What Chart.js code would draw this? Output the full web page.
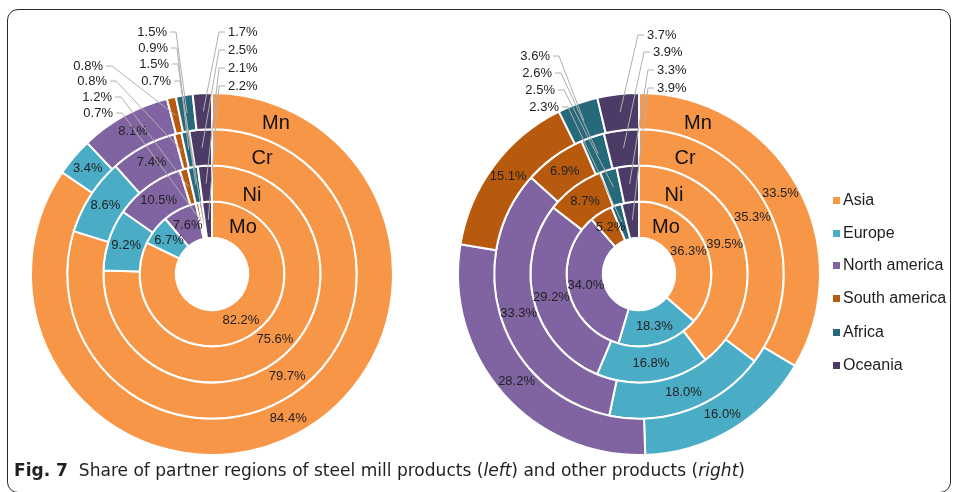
<!DOCTYPE html>
<html>
<head>
<meta charset="utf-8">
<script src="https://cdn.jsdelivr.net/npm/chart.js@4/dist/chart.umd.min.js"></script>
<style>
  html,body{margin:0;padding:0;background:#fff;}
  body{width:956px;height:492px;overflow:hidden;position:relative;font-family:"Liberation Sans",Arial,sans-serif;}
  #frame{position:absolute;left:7px;top:9px;width:944px;height:484px;border:1.5px solid #2a2a2a;border-radius:11px;box-sizing:border-box;}
  canvas{position:absolute;top:0;}
  #c1{left:0;}
  #c2{left:425px;}
  #legend{position:absolute;left:833px;top:0;}
  .li{position:absolute;left:0;white-space:nowrap;font-size:16px;line-height:16px;color:#1e1e1e;}
  .sw{position:absolute;left:0;top:5px;width:7px;height:7px;}
  .lt{position:absolute;left:10px;top:0;}
  #caption{position:absolute;left:14px;top:460px;white-space:nowrap;font-family:"Liberation Sans Narrow","DejaVu Sans Condensed","Liberation Sans",sans-serif;font-size:18px;line-height:20px;color:#231f20;transform-origin:0 0;}
  #caption b{font-weight:bold;}
</style>
</head>
<body>
<div id="frame"></div>
<canvas id="c1" width="425" height="492"></canvas>
<canvas id="c2" width="531" height="492"></canvas>
<div id="legend"></div>
<div id="caption"><b>Fig. 7</b>&nbsp; Share of partner regions of steel mill products (<i>left</i>) and other products (<i>right</i>)</div>
<script>
// ---------- data ----------
const regions = ['Asia', 'Europe', 'North america', 'South america', 'Africa', 'Oceania'];
const rings = ['Mn', 'Cr', 'Ni', 'Mo'];            // outer -> inner
const steelMn = [84.4, 3.4, 8.1, 0.8, 1.5, 1.7];
const steelCr = [79.7, 8.6, 7.4, 0.8, 0.9, 2.5];
const steelNi = [75.6, 9.2, 10.5, 1.2, 1.5, 2.1];
const steelMo = [82.2, 6.7, 7.6, 0.7, 0.7, 2.2];
const otherMn = [33.5, 16.0, 28.2, 15.1, 3.6, 3.7];
const otherCr = [35.3, 18.0, 33.3, 6.9, 2.6, 3.9];
const otherNi = [39.5, 16.8, 29.2, 8.7, 2.5, 3.3];
const otherMo = [36.3, 18.3, 34.0, 5.2, 2.3, 3.9];
const colors = ['#F79646', '#4BACC6', '#8064A2', '#B75A0D', '#25697B', '#4C3A67'];

// ---------- layout (label offsets relative to chart centre) ----------
const leftLayout = {
  callouts: {
    3: {align: 'right', dx: [-109, -105, -100, -99], dy: [-208, -193, -177, -161]},
    4: {align: 'right', dx: [-45, -44, -43, -41], dy: [-242, -226, -210, -193]},
    5: {align: 'left', dx: [16, 16, 16, 16], dy: [-242, -224, -206, -188]}
  },
  names: [[64, -151], [50, -116], [40, -79], [31, -47]]
};
const rightLayout = {
  callouts: {
    4: {align: 'right', dx: [-89, -87, -84, -80], dy: [-218, -201, -184, -167]},
    5: {align: 'left', dx: [8, 14, 18, 18], dy: [-239, -222, -204, -186]}
  },
  names: [[59, -151], [46, -116], [35, -79], [27, -47]]
};

function labelPlugin(cfg) {
  return {
    id: 'ringLabels',
    afterDatasetsDraw(chart) {
      const ctx = chart.ctx;
      const a0 = chart.getDatasetMeta(0).data[0];
      const cx = a0.x, cy = a0.y;
      ctx.save();
      ctx.font = '13px "Liberation Sans", Arial, sans-serif';
      ctx.textBaseline = 'middle';
      chart.data.datasets.forEach((ds, di) => {
        const meta = chart.getDatasetMeta(di);
        meta.data.forEach((arc, i) => {
          const txt = ds.data[i].toFixed(1) + '%';
          const p = arc.getCenterPoint();
          const co = cfg.callouts[i];
          ctx.fillStyle = '#222';
          if (!co) {
            ctx.textAlign = 'center';
            ctx.fillText(txt, p.x, p.y);
            return;
          }
          const lx = cx + co.dx[di], ly = cy + co.dy[di];
          ctx.textAlign = co.align;
          ctx.fillText(txt, lx, ly);
          const sx = co.align === 'left' ? lx - 3 : lx + 3;
          const tx = co.align === 'left' ? sx - 6 : sx + 6;
          ctx.strokeStyle = '#b0b0b0';
          ctx.lineWidth = 1;
          ctx.beginPath();
          ctx.moveTo(sx, ly);
          ctx.lineTo(tx, ly);
          ctx.lineTo(p.x, p.y);
          ctx.stroke();
        });
      });
      ctx.font = '20px "Liberation Sans", Arial, sans-serif';
      ctx.fillStyle = '#111';
      ctx.textAlign = 'center';
      rings.forEach((r, di) => ctx.fillText(r, cx + cfg.names[di][0], cy + cfg.names[di][1]));
      ctx.restore();
    }
  };
}

function makeChart(id, series, padding, layout) {
  new Chart(document.getElementById(id), {
    type: 'doughnut',
    data: {
      labels: regions,
      datasets: series.map((d, i) => ({
        label: rings[i], data: d, backgroundColor: colors,
        borderColor: '#ffffff', borderWidth: 2
      }))
    },
    options: {
      responsive: false, maintainAspectRatio: false, animation: false,
      cutout: '20%',
      layout: {padding: padding},
      plugins: {legend: {display: false}, tooltip: {enabled: false}}
    },
    plugins: [labelPlugin(layout)]
  });
}

makeChart('c1', [steelMn, steelCr, steelNi, steelMo], {left: 30, right: 31, top: 92, bottom: 36}, leftLayout);
makeChart('c2', [otherMn, otherCr, otherNi, otherMo], {left: 32, right: 135, top: 92, bottom: 36}, rightLayout);

// legend
const lg = document.getElementById('legend');
const legendTops = [192, 225, 257, 290, 324, 357];
regions.forEach((r, i) => {
  const d = document.createElement('div');
  d.className = 'li';
  d.style.top = legendTops[i] + 'px';
  d.innerHTML = '<span class="sw" style="background:' + colors[i] + '"></span><span class="lt">' + r + '</span>';
  lg.appendChild(d);
});

// caption width fit
const cap = document.getElementById('caption');
const w = cap.getBoundingClientRect().width;
cap.style.transform = 'scaleX(' + (731 / w) + ')';
</script>
</body>
</html>
